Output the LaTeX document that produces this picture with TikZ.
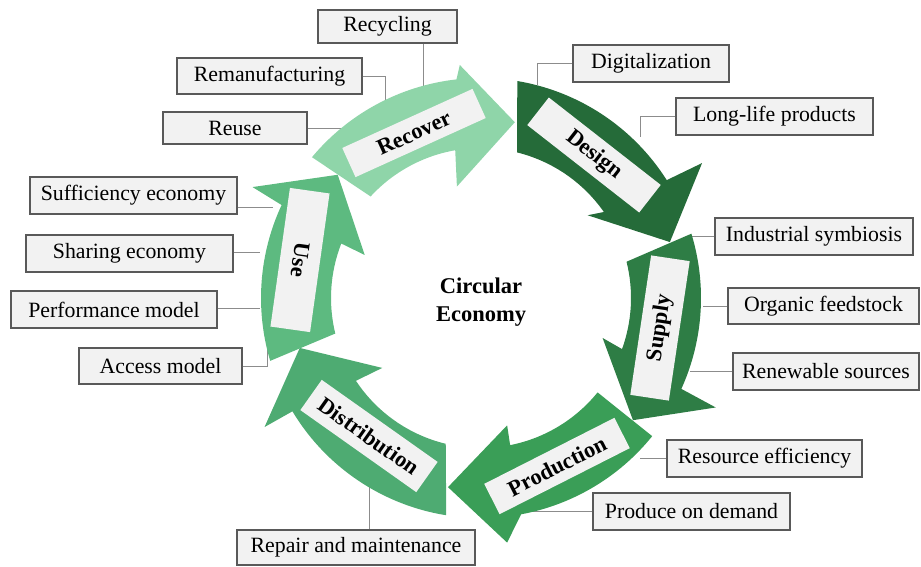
\documentclass[tikz,border=0pt]{standalone}
\usepackage{fontspec}
\setmainfont{Liberation Serif}
\definecolor{cRecover}{HTML}{8FD5A9}
\definecolor{cDesign}{HTML}{256B39}
\definecolor{cSupply}{HTML}{2E7D45}
\definecolor{cProduction}{HTML}{3A9E57}
\definecolor{cDistribution}{HTML}{4EAB72}
\definecolor{cUse}{HTML}{5DBA80}
\definecolor{tagfill}{HTML}{F2F2F2}
\definecolor{boxfill}{HTML}{F2F2F2}
\definecolor{boxline}{HTML}{595959}
\definecolor{linkline}{HTML}{8C8C8C}
\begin{document}
\begin{tikzpicture}[x=1pt,y=1pt,
  lbl/.style={draw=boxline, fill=boxfill, line width=1.1pt, inner sep=0pt,
    font=\fontsize{21.8}{25}\selectfont},
  tag/.style={fill=tagfill, inner sep=0pt, font=\fontsize{22.5}{26}\selectfont\bfseries},
  link/.style={draw=linkline, line width=1pt},
  ringarrow/.style={draw=none}]
\useasboundingbox (0,0) rectangle (921,-566);

% connector end points on the ring
\coordinate (e1) at (423,-88);
\coordinate (e2) at (385,-103);
\coordinate (e3) at (345,-128);
\coordinate (e4) at (537,-85);
\coordinate (e5) at (640,-137);
\coordinate (e6) at (690,-237);
\coordinate (e7) at (703,-306);
\coordinate (e8) at (690,-372);
\coordinate (e9) at (640,-458);
\coordinate (e10) at (520,-508);
\coordinate (e11) at (369,-487);
\coordinate (e12) at (273,-207);
\coordinate (e13) at (260,-252);
\coordinate (e14) at (260,-308);
\coordinate (e15) at (267,-334);

% outer label boxes
\node[lbl, minimum width=139pt, minimum height=33pt] (recyc) at (387.5,-26.5) {Recycling};
\node[lbl, minimum width=185pt, minimum height=36pt] (reman) at (269.5,-76) {Remanufacturing};
\node[lbl, minimum width=144pt, minimum height=32pt] (reuse) at (235,-128) {Reuse};
\node[lbl, minimum width=156pt, minimum height=37pt] (digi) at (651,-63.5) {Digitalization};
\node[lbl, minimum width=197pt, minimum height=37pt] (longlife) at (774.5,-116.5) {Long-life products};
\node[lbl, minimum width=198pt, minimum height=37pt] (indsym) at (814,-236.5) {Industrial symbiosis};
\node[lbl, minimum width=191pt, minimum height=36pt] (organic) at (823.5,-306) {Organic feedstock};
\node[lbl, minimum width=186pt, minimum height=37pt] (renew) at (826,-371.5) {Renewable sources};
\node[lbl, minimum width=195pt, minimum height=37pt] (reseff) at (764.5,-458.5) {Resource efficiency};
\node[lbl, minimum width=197pt, minimum height=37pt] (prodem) at (691.5,-511.5) {Produce on demand};
\node[lbl, minimum width=238pt, minimum height=35pt] (repair) at (356,-547.5) {Repair and maintenance};
\node[lbl, minimum width=207pt, minimum height=37pt] (suff) at (133.5,-195.5) {Sufficiency economy};
\node[lbl, minimum width=207pt, minimum height=37pt] (share) at (129.5,-253.5) {Sharing economy};
\node[lbl, minimum width=206pt, minimum height=37pt] (perf) at (114,-309.5) {Performance model};
\node[lbl, minimum width=163pt, minimum height=36pt] (access) at (160.5,-366) {Access model};

% connectors
\draw[link] (recyc.south -| e1) -- (e1);
\draw[link] (reman.east) -| (e2);
\draw[link] (reuse.east) -- (reuse.east -| e3);
\draw[link] (digi.west) -| (e4);
\draw[link] (longlife.west) -| (e5);
\draw[link] (indsym.west) -- (indsym.west -| e6);
\draw[link] (organic.west) -- (organic.west -| e7);
\draw[link] (renew.west) -- (renew.west -| e8);
\draw[link] (reseff.west) -- (reseff.west -| e9);
\draw[link] (prodem.west) -- (prodem.west -| e10);
\draw[link] (repair.north -| e11) -- (e11);
\draw[link] (e12 -| suff.east) -- (e12);
\draw[link] (e13 -| share.east) -- (e13);
\draw[link] (e14 -| perf.east) -- (e14);
\draw[link] (access.east) -| (e15);

% ring arrows
\begin{scope}[shift={(481,-298)}]
\path[ringarrow, fill=cRecover] (140.2:220) arc[start angle=140.2, end angle=96.4, radius=220]
  -- (95.2:234) -- (79.1:179) -- (102.2:114) -- (99.9:150)
  arc[start angle=99.9, end angle=137.4, radius=150] -- cycle;
\path[ringarrow, fill=cDesign] (80.5:220) arc[start angle=80.5, end angle=32.4, radius=220]
  -- (31.4:259) -- (16.5:197) -- (37.8:135) -- (35:150)
  arc[start angle=35, end angle=76.1, radius=150] -- cycle;
\path[ringarrow, fill=cSupply] (17:220) arc[start angle=17, end angle=-24.4, radius=220]
  -- (-25:259) -- (-38.8:195) -- (-18.2:128) -- (-19.9:150)
  arc[start angle=-19.9, end angle=14, radius=150] -- cycle;
\path[ringarrow, fill=cProduction] (-38.9:220) arc[start angle=-38.9, end angle=-79.5, radius=220]
  -- (-83.9:246) -- (-99.9:192) -- (-78.4:130) -- (-78.8:150)
  arc[start angle=-78.8, end angle=-39, radius=150] -- cycle;
\path[ringarrow, fill=cDistribution] (-99.1:220) arc[start angle=-99.1, end angle=-149, radius=220]
  -- (-149.2:252) -- (-164.6:188) -- (-144.7:121) -- (-146.5:150)
  arc[start angle=-146.5, end angle=-103.6, radius=150] -- cycle;
\path[ringarrow, fill=cUse] (-163.4:220) arc[start angle=-163.4, end angle=-205, radius=220]
  -- (-205.9:254) -- (-220.7:189) -- (-200.3:124) -- (-201.3:150)
  arc[start angle=-201.3, end angle=-166.3, radius=150] -- cycle;
\end{scope}

% labels on the arrows
\node[tag, minimum width=143pt, minimum height=32pt, rotate=24.4] (tRecover) at (414,-133) {Recover};
\node[tag, minimum width=142pt, minimum height=35pt, rotate=-38] (tDesign) at (594,-155) {Design};
\node[tag, minimum width=141pt, minimum height=39pt, rotate=81.5] (tSupply) at (660,-328) {Supply};
\node[tag, minimum width=146pt, minimum height=34pt, rotate=26.9] (tProduction) at (557,-466) {Production};
\node[tag, minimum width=142pt, minimum height=37pt, rotate=-35.3] (tDistribution) at (369,-436) {Distribution};
\node[tag, minimum width=140pt, minimum height=40pt, rotate=-98] (tUse) at (300,-260) {Use};

% centre
\node[align=center, font=\fontsize{22.5}{28}\selectfont\bfseries] (centre) at (481,-302) {Circular\\Economy};
\end{tikzpicture}
\end{document}
